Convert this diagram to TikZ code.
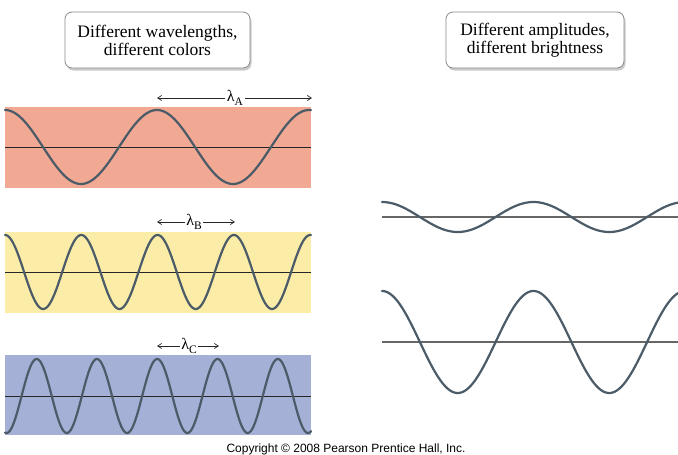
\documentclass[tikz,border=0pt]{standalone}
\usepackage{fontspec}
\setmainfont{Liberation Serif}
\newfontfamily\copyfont{Liberation Sans}
\usetikzlibrary{arrows.meta,shadows}
\definecolor{salmon}{HTML}{F1A994}
\definecolor{paleyellow}{HTML}{FBEDA8}
\definecolor{paleblue}{HTML}{A4B0D6}
\definecolor{wavecol}{HTML}{4B5B68}
\definecolor{boxborder}{HTML}{8A8A8A}
\newcommand{\lamlab}[1]{λ\raisebox{-3.5pt}{\fontsize{11.5}{11.5}\selectfont #1}}
\tikzset{
  titlebox/.style={draw=boxborder, line width=0.8pt, fill=white, rounded corners=7pt,
    drop shadow={shadow xshift=1.5pt, shadow yshift=-2.5pt, opacity=0.35, fill=black!60},
    minimum width=185pt, minimum height=56pt, align=center, font=\fontsize{17.5}{18}\selectfont, inner sep=0pt},
  wave/.style={draw=wavecol, line width=2.2pt, line cap=round},
  axisline/.style={draw=black!85, line width=0.9pt},
  raxis/.style={draw=black!60, line width=1.6pt},
  lam/.style={font=\fontsize{16}{16}\selectfont, inner sep=1.5pt},
  dimarrow/.style={-{Straight Barb[length=4pt,width=5pt]}, line width=0.7pt, black!85},
}
\begin{document}
\begin{tikzpicture}[x=1pt,y=-1pt]
\useasboundingbox (0,0) rectangle (678,455);
% title boxes
\node[titlebox] (t1) at (157.5,40) {Different wavelengths,\\different colors};
\node[titlebox, minimum width=178pt] (t2) at (535,40) {Different amplitudes,\\different brightness};
% panel A
\fill[salmon] (5,107) rectangle (311,188);
\draw[axisline] (5,147) -- (311,147);
\draw[wave] plot[domain=5:311, samples=200] (\x, {147 - 37*cos((\x-5)/152*360)});
\node[lam] (la) at (235,98) {\lamlab{A}};
\coordinate (la1) at (157,98);
\coordinate (la2) at (312,98);
\draw[dimarrow] (la.west) -- (la1);
\draw[dimarrow] (la.east) -- (la2);
% panel B
\fill[paleyellow] (5,232) rectangle (311,313);
\draw[axisline] (5,272) -- (311,272);
\draw[wave] plot[domain=5:311, samples=300] (\x, {272 - 37*cos((\x-5)/76.3*360)});
\node[lam] (lb) at (194,222) {\lamlab{B}};
\coordinate (lb1) at (157,222);
\coordinate (lb2) at (235,222);
\draw[dimarrow] (lb.west) -- (lb1);
\draw[dimarrow] (lb.east) -- (lb2);
% panel C
\fill[paleblue] (5,355) rectangle (311,435);
\draw[axisline] (5,396) -- (311,396);
\draw[wave] plot[domain=5:311, samples=300] (\x, {396 + 37*cos((\x-6.5)/60.3*360)});
\node[lam] (lc) at (189,346) {\lamlab{C}};
\coordinate (lc1) at (157,346);
\coordinate (lc2) at (219,346);
\draw[dimarrow] (lc.west) -- (lc1);
\draw[dimarrow] (lc.east) -- (lc2);
% right waves
\draw[raxis] (382,217) -- (678,217);
\draw[wave] plot[domain=382:678, samples=200] (\x, {217 - 15*cos((\x-382)/151.5*360)});
\draw[raxis] (382,342) -- (678,342);
\draw[wave] plot[domain=382:678, samples=200] (\x, {342 - 51*cos((\x-382)/151.5*360)});
% copyright
\node[font=\copyfont\fontsize{12}{12}\selectfont, inner sep=0pt] (copy) at (346,449) {Copyright \textcopyright{} 2008 Pearson Prentice Hall, Inc.};
\end{tikzpicture}
\end{document}
